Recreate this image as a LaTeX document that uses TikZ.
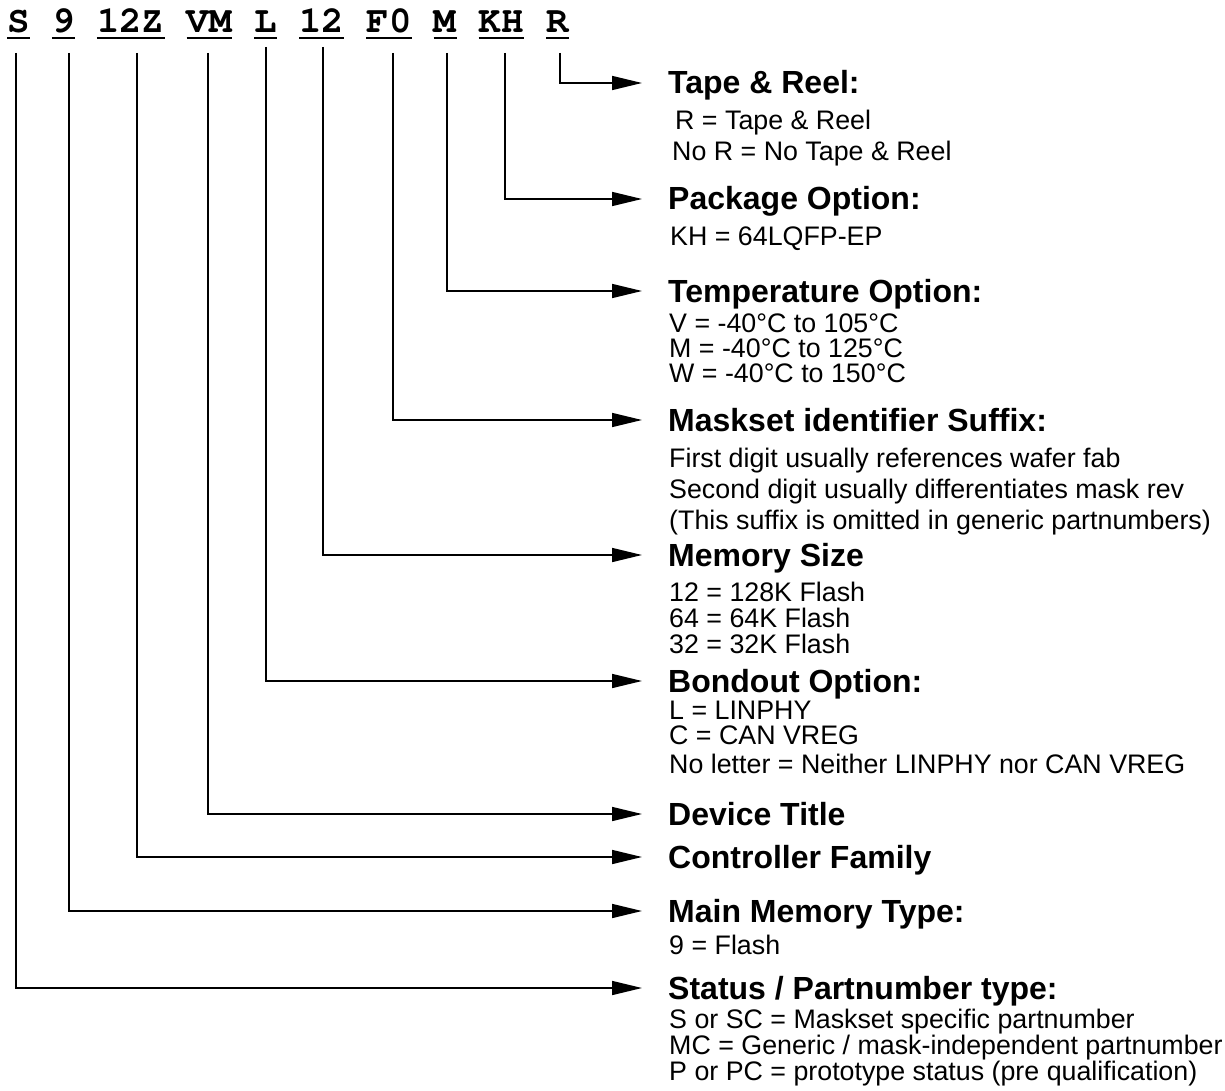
\documentclass[tikz,border=0pt]{standalone}
\usepackage{fontspec}
\setmainfont{Liberation Sans}
\newfontfamily\pnfont{TeX Gyre Cursor}
\usetikzlibrary{arrows.meta}
\begin{document}
\begin{tikzpicture}[x=1pt,y=-1pt,
  pn/.style={font=\pnfont\bfseries\fontsize{37.4}{40}\selectfont, inner sep=0pt, anchor=base west},
  ttl/.style={font=\bfseries\fontsize{32}{34}\selectfont, inner sep=0pt, anchor=base west},
  bdy/.style={font=\fontsize{26.8}{30}\selectfont, inner sep=0pt, anchor=base west},
  lead/.style={line width=1.6pt, -{Triangle[length=30pt,width=14pt]}},
  uline/.style={line width=2.2pt}]
\fill[white] (0,0) rectangle (1225,1091);
\useasboundingbox (0,0) rectangle (1225,1091);

% part number tokens
\node[pn] (tS)   at (7,33)     {S};
\node[pn] (t9)   at (51.9,33)  {9};
\node[pn] (t12Z) at (96.8,33)  {12Z};
\node[pn] (tVM)  at (186.7,33) {VM};
\node[pn] (tL)   at (254.1,33) {L};
\node[pn] (tMS)  at (299,33)   {12};
\node[pn] (tF0)  at (366.4,33) {F0};
\node[pn] (tM)   at (433.7,33) {M};
\node[pn] (tKH)  at (478.7,33) {KH};
\node[pn] (tR)   at (546,33)   {R};
\foreach \n in {tS,t9,t12Z,tVM,tL,tMS,tF0,tM,tKH,tR}
  \draw[uline] ([yshift=-5pt]\n.base west) -- ([yshift=-5pt]\n.base east);

% titles
\node[ttl] (hR)   at (668,94)  {Tape \& Reel:};
\node[ttl] (hKH)  at (668,210) {Package Option:};
\node[ttl] (hM)   at (668,302) {Temperature Option:};
\node[ttl] (hF0)  at (668,431) {Maskset identifier Suffix:};
\node[ttl] (hMS)  at (668,566) {Memory Size};
\node[ttl] (hL)   at (668,692) {Bondout Option:};
\node[ttl] (hVM)  at (668,825) {Device Title};
\node[ttl] (h12Z) at (668,868) {Controller Family};
\node[ttl] (h9)   at (668,922) {Main Memory Type:};
\node[ttl] (hS)   at (668,999) {Status / Partnumber type:};

% bodies
\node[bdy] (bR1) at (675,130) {R = Tape \& Reel};
\node[bdy] (bR2) at (672,161) {No R = No Tape \& Reel};
\node[bdy] (bKH) at (670,246) {KH = 64LQFP-EP};
\node[bdy] (bM1) at (669,332) {V = -40°C to 105°C};
\node[bdy] (bM2) at (669,357) {M = -40°C to 125°C};
\node[bdy] (bM3) at (669,382) {W = -40°C to 150°C};
\node[bdy] (bF1) at (669,467) {First digit usually references wafer fab};
\node[bdy] (bF2) at (669,498) {Second digit usually differentiates mask rev};
\node[bdy] (bF3) at (669,529) {(This suffix is omitted in generic partnumbers)};
\node[bdy] (bS1) at (669,601) {12 = 128K Flash};
\node[bdy] (bS2) at (669,627) {64 = 64K Flash};
\node[bdy] (bS3) at (669,653) {32 = 32K Flash};
\node[bdy] (bL1) at (669,719) {L = LINPHY};
\node[bdy] (bL2) at (669,744) {C = CAN VREG};
\node[bdy] (bL3) at (669,773) {No letter = Neither LINPHY nor CAN VREG};
\node[bdy] (b91) at (669,954) {9 = Flash};
\node[bdy] (bS1x) at (669,1028) {S or SC = Maskset specific partnumber};
\node[bdy] (bS2x) at (669,1054) {MC = Generic / mask-independent partnumber};
\node[bdy] (bS3x) at (669,1080) {P or PC = prototype status (pre qualification)};

% leader start points
\coordinate (sS)   at (16,53);
\coordinate (s9)   at (69,53);
\coordinate (s12Z) at (137,53);
\coordinate (sVM)  at (208,53);
\coordinate (sL)   at (266,47);
\coordinate (sMS)  at (323,47);
\coordinate (sF0)  at (393,53);
\coordinate (sM)   at (447,53);
\coordinate (sKH)  at (505,53);
\coordinate (sR)   at (560,53);

\foreach \k in {S,9,12Z,VM,L,MS,F0,M,KH,R}
  \draw[lead] (s\k) |- ([shift={(-26pt,11pt)}]h\k.base west);
\end{tikzpicture}
\end{document}
